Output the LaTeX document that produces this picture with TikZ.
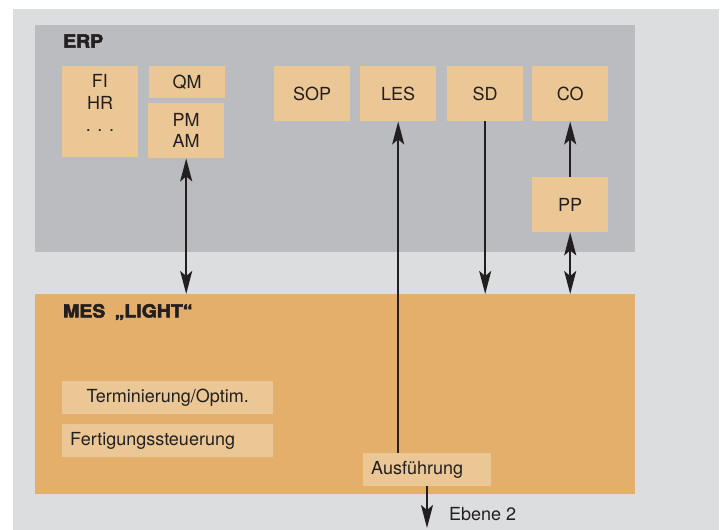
\documentclass[tikz,border=0pt]{standalone}
\usepackage{fontspec}
\setmainfont{TeX Gyre Heros}
\newfontfamily\heavyfont[FakeBold=3,FakeStretch=1.08]{TeX Gyre Heros Bold}
\usetikzlibrary{arrows.meta}
\definecolor{bgpanel}{HTML}{DCDDDF}
\definecolor{erpgrey}{HTML}{BBBCC0}
\definecolor{modfill}{HTML}{EBC795}
\definecolor{mesfill}{HTML}{E3AF6B}
\definecolor{ink}{HTML}{231F20}
\begin{document}
\begin{tikzpicture}[x=1pt,y=-1pt,
  layer/.style={inner sep=0pt, anchor=north west},
  module/.style={fill=modfill, inner sep=0pt, anchor=north west, text=ink,
    font=\fontsize{18}{21}\selectfont, align=center},
  lbl/.style={inner sep=0pt, text=ink, font=\fontsize{18}{21}\selectfont},
  heading/.style={inner sep=0pt, anchor=west, text=ink,
    font=\fontsize{18}{21}\selectfont\heavyfont},
  flow/.style={draw=ink, line width=2.2pt, -{Stealth[length=23pt,width=12pt,inset=5pt]}},
  flowboth/.style={draw=ink, line width=2.2pt,
    {Stealth[length=23pt,width=12pt,inset=5pt]}-{Stealth[length=23pt,width=12pt,inset=5pt]}}]
  \useasboundingbox (0,0) rectangle (723,530);
  \fill[bgpanel] (13,9) rectangle (719,530);

  % system layers
  \node[layer, fill=erpgrey, minimum width=600pt, minimum height=227pt] (erp) at (35,25) {};
  \node[layer, fill=mesfill, minimum width=600pt, minimum height=200pt] (mes) at (35,294) {};
  \node[heading] (erplbl) at (63,41) {ERP};
  \node[heading] (meslbl) at (63,312) {MES\hspace{4pt} „LIGHT“};

  % ERP modules
  \node[module, minimum width=76pt, minimum height=91pt] (fi) at (62,66) {};
  \node[lbl, align=center, font=\fontsize{18}{22}\selectfont] (filbl) at (100,103) {FI\\HR\\. . .};
  \node[module, minimum width=76pt, minimum height=32pt] (qm) at (149,66) {QM};
  \node[module, minimum width=76pt, minimum height=55pt] (pmam) at (148,103) {PM\\AM};
  \node[module, minimum width=76pt, minimum height=55pt] (sop) at (274,66) {SOP};
  \node[module, minimum width=76pt, minimum height=55pt] (les) at (360,66) {LES};
  \node[module, minimum width=76pt, minimum height=55pt] (sd) at (447,66) {SD};
  \node[module, minimum width=76pt, minimum height=55pt] (co) at (532,66) {CO};
  \node[module, minimum width=76pt, minimum height=55pt] (pp) at (532,177) {PP};

  % MES functions
  \node[module, minimum width=211pt, minimum height=33pt] (term) at (62,381) {Terminierung/Optim.};
  \node[module, minimum width=211pt, minimum height=33pt] (fert) at (62,424) {};
  \node[lbl, anchor=west] (fertlbl) at ([xshift=8pt]fert.west) {Fertigungssteuerung};
  \node[module, minimum width=128pt, minimum height=33pt] (ausf) at (363,453) {};
  \node[lbl, anchor=west] (ausflbl) at ([xshift=8pt]ausf.west) {Ausführung};

  % data flows
  \draw[flowboth] (pmam.south) -- (pmam.south |- mes.north);
  \draw[flow] (ausf.north -| les.south) -- (les.south);
  \draw[flow] (sd.south) -- (sd.south |- mes.north);
  \draw[flow] (pp.north) -- (co.south);
  \draw[flowboth] (pp.south) -- (pp.south |- mes.north);
  \coordinate (lower) at (427,528);
  \draw[flow] (ausf.south -| lower) -- (lower);
  \node[lbl, anchor=west] (ebene) at (449,514) {Ebene 2};
\end{tikzpicture}
\end{document}
